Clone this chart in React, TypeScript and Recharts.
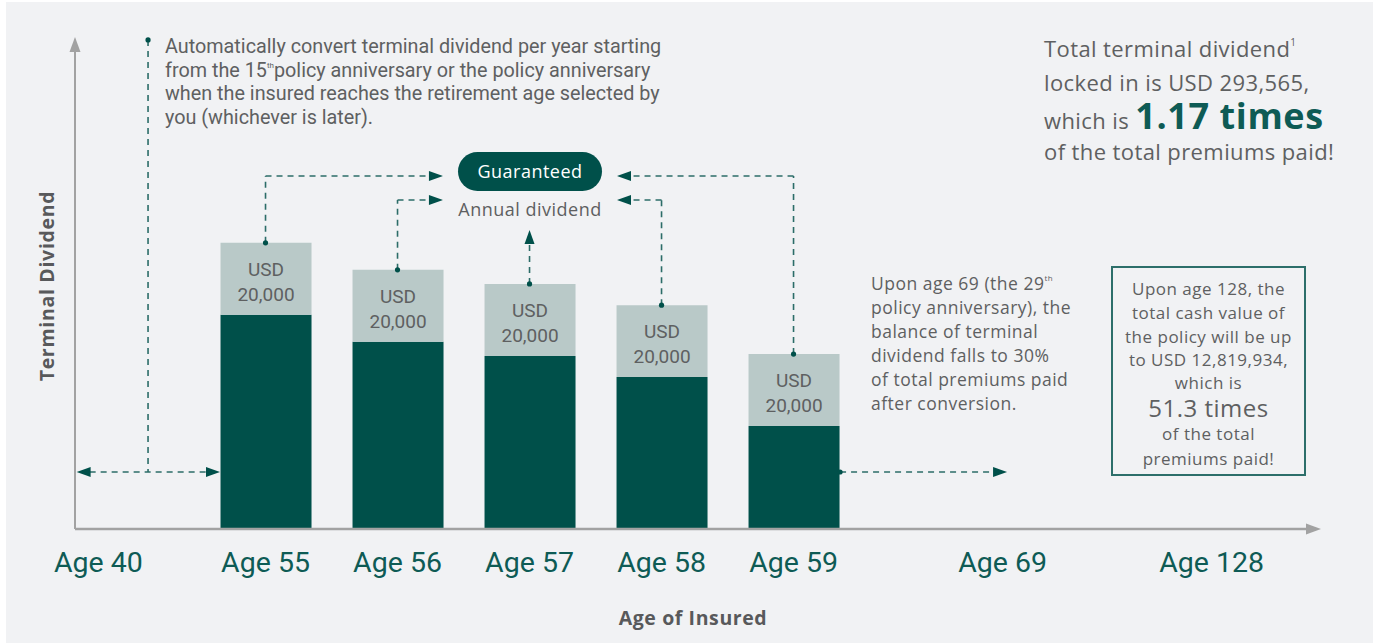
import React from 'react';
import { ComposedChart, Bar, XAxis, YAxis, ReferenceLine, LabelList } from 'recharts';

// ages shown on the x axis
const ageLabels = ['Age 40', 'Age 55', 'Age 56', 'Age 57', 'Age 58', 'Age 59', 'Age 69', 'Age 128'];
// bars
const barAges = ['Age 55', 'Age 56', 'Age 57', 'Age 58', 'Age 59'];
const terminalBalance = [59500, 52000, 48100, 42200, 28600];
const annualDividend = [20000, 20000, 20000, 20000, 20000];
// balance level drawn as a dashed line before / after conversion
const flatBalance = 15840;

// layout of the (uneven) age axis, in axis slot units
const ageSlots = [1.8, 17, 29, 41, 53, 65, 84, 103];
const X_DOMAIN: [number, number] = [-0.32, 112.95];
const Y_DOMAIN: [number, number] = [0, 136700];

// where each bar's dashed link turns towards the "Guaranteed" label
const linkLevels = [98080, 91410, 83080, 91410, 98080];
const linkTips = [33.13, 33.13, null, 48.95, 48.95];

const DARK = '#00504a';
const LIGHT = '#b9c9c8';
const TEAL = '#0e5b55';
const DASH = '#2c6d68';
const GRAY_TEXT = '#5e6061';
const AXIS = '#a2a2a2';
const FONT = 'Roboto, "Noto Sans", sans-serif';
const WIDE = '"Open Sans", "Noto Sans", sans-serif';

const chartData = barAges.map((age, i) => ({
  slot: ageSlots[ageLabels.indexOf(age)],
  locked: terminalBalance[i],
  annual: annualDividend[i],
}));

type ArrowOpts = {
  head?: 'end' | 'both' | 'none';
  dot?: boolean;
  color?: string;
  headColor?: string;
  dashed?: boolean;
  width?: number;
  headLen?: number;
  headW?: number;
};

const arrowShape = (o: ArrowOpts) => (p: any) => {
  const x1 = Number(p.x1), y1 = Number(p.y1), x2 = Number(p.x2), y2 = Number(p.y2);
  const dx = x2 - x1, dy = y2 - y1;
  const len = Math.hypot(dx, dy) || 1;
  const ux = dx / len, uy = dy / len;
  const L = o.headLen ?? 14;
  const W = (o.headW ?? 10) / 2;
  const head = o.head ?? 'none';
  const tri = (tx: number, ty: number, dx: number, dy: number) => {
    const bx = tx - dx * L, by = ty - dy * L;
    return `${tx},${ty} ${bx - dy * W},${by + dx * W} ${bx + dy * W},${by - dx * W}`;
  };
  const sx = head === 'both' ? x1 + ux * (L - 1) : x1;
  const sy = head === 'both' ? y1 + uy * (L - 1) : y1;
  const ex = head !== 'none' ? x2 - ux * (L - 1) : x2;
  const ey = head !== 'none' ? y2 - uy * (L - 1) : y2;
  const color = o.color ?? DASH;
  const hc = o.headColor ?? DARK;
  return (
    <g>
      <line
        x1={sx} y1={sy} x2={ex} y2={ey}
        stroke={color}
        strokeWidth={o.width ?? 1.6}
        strokeDasharray={o.dashed === false ? undefined : '6 5'}
      />
      {head !== 'none' && <polygon points={tri(x2, y2, ux, uy)} fill={hc} />}
      {head === 'both' && <polygon points={tri(x1, y1, -ux, -uy)} fill={hc} />}
      {o.dot && <circle cx={x1} cy={y1} r={2.6} fill={hc} />}
    </g>
  );
};

const renderUsd = (p: any) => {
  const { x, y, width, value } = p;
  if (value == null) return null;
  const cx = Number(x) + Number(width) / 2;
  return (
    <text textAnchor="middle" fill={GRAY_TEXT} fontSize={19} fontFamily={FONT}>
      <tspan x={cx} y={Number(y) + 33}>USD</tspan>
      <tspan x={cx} y={Number(y) + 58}>{Number(value).toLocaleString('en-US')}</tspan>
    </text>
  );
};

const renderTick = (p: any) => {
  const { x, y, payload } = p;
  const idx = ageSlots.indexOf(payload.value);
  return (
    <text x={x} y={Number(y) + 43} textAnchor="middle" fill={TEAL} fontSize={28.5} fontFamily={FONT}>
      {ageLabels[idx]}
    </text>
  );
};

const sup = { fontSize: 8, verticalAlign: 'top', lineHeight: '14px' } as const;
const boxLine = (h: number) => ({ height: h, lineHeight: `${h}px` });

const App: React.FC = () => {
  const yMax = Y_DOMAIN[1];
  return (
    <div style={{ position: 'absolute', left: 0, top: 0, width: 1373, height: 643, background: '#ffffff', overflow: 'hidden', fontFamily: FONT }}>
      <div style={{ position: 'absolute', left: 6, top: 2, right: 0, bottom: 0, background: '#f1f2f4' }} />

      <div style={{ position: 'absolute', left: 0, top: 0 }}>
        <ComposedChart
          width={1373}
          height={643}
          data={chartData}
          margin={{ top: 37, right: 52, bottom: 54, left: 75 }}
        >
          <XAxis
            dataKey="slot"
            type="number"
            domain={X_DOMAIN}
            allowDataOverflow
            ticks={ageSlots}
            interval={0}
            axisLine={false}
            tickLine={false}
            tickSize={0}
            tickMargin={0}
            tick={renderTick}
            height={60}
          />
          <YAxis hide width={0} domain={Y_DOMAIN} allowDataOverflow />

          <Bar dataKey="locked" stackId="a" fill={DARK} barSize={91} isAnimationActive={false} />
          <Bar dataKey="annual" stackId="a" fill={LIGHT} barSize={91} isAnimationActive={false}>
            <LabelList dataKey="annual" content={renderUsd} />
          </Bar>

          {/* axes with arrowheads */}
          <ReferenceLine
            ifOverflow="visible"
            segment={[{ x: X_DOMAIN[0], y: 0 }, { x: X_DOMAIN[0], y: yMax }]}
            shape={arrowShape({ head: 'end', dashed: false, color: AXIS, headColor: AXIS, width: 2, headLen: 15, headW: 11 })}
          />
          <ReferenceLine
            ifOverflow="visible"
            segment={[{ x: X_DOMAIN[0], y: 0 }, { x: X_DOMAIN[1], y: 0 }]}
            shape={arrowShape({ head: 'end', dashed: false, color: AXIS, headColor: AXIS, width: 2.5, headLen: 15, headW: 11 })}
          />

          {/* balance before conversion */}
          <ReferenceLine
            ifOverflow="visible"
            segment={[{ x: 6.32, y: 135900 }, { x: 6.32, y: flatBalance }]}
            shape={arrowShape({ dot: true })}
          />
          <ReferenceLine
            ifOverflow="visible"
            segment={[{ x: -0.17, y: flatBalance }, { x: 12.86, y: flatBalance }]}
            shape={arrowShape({ head: 'both' })}
          />

          {/* links from each bar to the Guaranteed annual dividend */}
          {chartData.map((d, i) => {
            const top = d.locked + d.annual;
            const tip = linkTips[i];
            return (
              <React.Fragment key={d.slot}>
                <ReferenceLine
                  ifOverflow="visible"
                  segment={[{ x: d.slot, y: top }, { x: d.slot, y: linkLevels[i] }]}
                  shape={arrowShape({ dot: true, head: tip == null ? 'end' : 'none' })}
                />
                {tip != null && (
                  <ReferenceLine
                    ifOverflow="visible"
                    segment={[{ x: d.slot, y: linkLevels[i] }, { x: tip, y: linkLevels[i] }]}
                    shape={arrowShape({ head: 'end' })}
                  />
                )}
              </React.Fragment>
            );
          })}

          {/* balance after conversion */}
          <ReferenceLine
            ifOverflow="visible"
            segment={[{ x: 69.23, y: flatBalance }, { x: 84.41, y: flatBalance }]}
            shape={arrowShape({ dot: true, head: 'end' })}
          />
        </ComposedChart>
      </div>

      {/* top-left note */}
      <div style={{ position: 'absolute', left: 165, top: 35, fontSize: 19.8, lineHeight: '23.7px', color: GRAY_TEXT, whiteSpace: 'nowrap' }}>
        Automatically convert terminal dividend per year starting<br />
        from the 15<sup style={sup}>th</sup>policy anniversary or the policy anniversary<br />
        when the insured reaches the retirement age selected by<br />
        you (whichever is later).
      </div>

      {/* top-right highlight */}
      <div style={{ position: 'absolute', left: 1044, top: 31, fontSize: 22, fontFamily: WIDE, letterSpacing: 0.4, color: GRAY_TEXT, whiteSpace: 'nowrap' }}>
        <div style={boxLine(34)}>
          Total terminal dividend<sup style={{ fontSize: 10, verticalAlign: 'top', lineHeight: '22px' }}>1</sup>
        </div>
        <div style={boxLine(34)}>locked in is USD 293,565,</div>
        <div style={boxLine(34)}>
          which is <span style={{ fontSize: 36, fontWeight: 700, letterSpacing: 0.6, color: TEAL }}>1.17 times</span>
        </div>
        <div style={boxLine(36)}>of the total premiums paid!</div>
      </div>

      {/* Guaranteed pill */}
      <div style={{ position: 'absolute', left: 458, top: 152, width: 144, height: 39, borderRadius: 20, background: DARK, color: '#ffffff', fontSize: 18, fontFamily: WIDE, letterSpacing: 0.5, lineHeight: '39px', textAlign: 'center' }}>
        Guaranteed
      </div>
      <div style={{ position: 'absolute', left: 430, top: 197, width: 200, height: 24, lineHeight: '24px', textAlign: 'center', fontSize: 18, fontFamily: WIDE, letterSpacing: 0.5, color: GRAY_TEXT }}>
        Annual dividend
      </div>

      {/* age 69 note */}
      <div style={{ position: 'absolute', left: 871, top: 271, fontSize: 17.5, fontFamily: WIDE, letterSpacing: 0.5, lineHeight: '24px', color: GRAY_TEXT, whiteSpace: 'nowrap' }}>
        Upon age 69 (the 29<sup style={sup}>th</sup><br />
        policy anniversary), the<br />
        balance of terminal<br />
        dividend falls to 30%<br />
        of total premiums paid<br />
        after conversion.
      </div>

      {/* age 128 box */}
      <div style={{ position: 'absolute', left: 1111, top: 266, width: 191, height: 206, border: '2px solid #2d6f6a', color: GRAY_TEXT, textAlign: 'center', fontSize: 17, fontFamily: WIDE, letterSpacing: 0.5, whiteSpace: 'nowrap' }}>
        <div style={{ height: 9 }} />
        <div style={boxLine(23.75)}>Upon age 128, the</div>
        <div style={boxLine(23.75)}>total cash value of</div>
        <div style={boxLine(23.75)}>the policy will be up</div>
        <div style={boxLine(23.75)}>to USD 12,819,934,</div>
        <div style={boxLine(22)}>which is</div>
        <div style={{ ...boxLine(27), fontSize: 24 }}>51.3 times</div>
        <div style={boxLine(25)}>of the total</div>
        <div style={boxLine(26)}>premiums paid!</div>
      </div>

      {/* axis titles */}
      <div style={{ position: 'absolute', left: 46, top: 286, transform: 'translate(-50%, -50%) rotate(-90deg)', fontSize: 19.5, fontWeight: 700, fontFamily: WIDE, letterSpacing: 0.7, color: '#58595b', whiteSpace: 'nowrap' }}>
        Terminal Dividend
      </div>
      <div style={{ position: 'absolute', left: 693, top: 617, transform: 'translate(-50%, -50%)', fontSize: 19.5, fontWeight: 700, fontFamily: WIDE, letterSpacing: 0.6, color: '#58595b', whiteSpace: 'nowrap' }}>
        Age of Insured
      </div>
    </div>
  );
};

export default App;
